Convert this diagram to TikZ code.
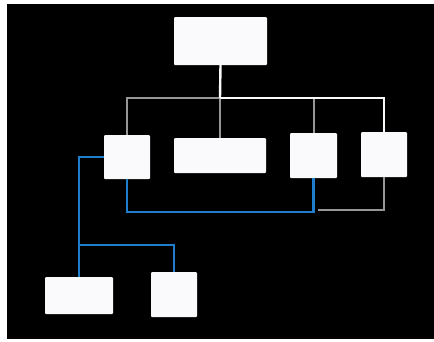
\documentclass[tikz,border=0pt]{standalone}
\usetikzlibrary{calc}
\definecolor{linkblue}{RGB}{30,125,205}
\definecolor{boxwhite}{RGB}{250,250,252}
\definecolor{busgray}{RGB}{150,150,150}
\begin{document}
\begin{tikzpicture}[x=1pt,y=-1pt,
  card/.style={draw=none,fill=boxwhite,rounded corners=1pt,inner sep=0pt},
  blueline/.style={draw=linkblue,line width=2.6pt},
  grayline/.style={draw=busgray,line width=2pt},
  whiteline/.style={draw=boxwhite,line width=2.4pt}]
\useasboundingbox (0,0) rectangle (434,341);
\fill[white] (0,0) rectangle (434,341);
\fill[black] (7,4) rectangle (434,339);
% nodes
\node[card,minimum width=93pt,minimum height=48pt] (top) at (220.5,41) {};
\node[card,minimum width=46pt,minimum height=44pt] (a) at (127,157) {};
\node[card,minimum width=92pt,minimum height=35pt] (b) at (220,155.5) {};
\node[card,minimum width=47pt,minimum height=45pt] (c) at (313.5,155.5) {};
\node[card,minimum width=46pt,minimum height=45pt] (d) at (384,154.5) {};
\node[card,minimum width=68pt,minimum height=37pt] (e) at (79,295.5) {};
\node[card,minimum width=46pt,minimum height=45pt] (f) at (174,294.5) {};
\coordinate (bus) at (220,98);
\coordinate (blow) at (0,212);
\coordinate (glow) at (318,210);
\coordinate (jn) at (0,245);
% connectors
\draw[grayline] (bus) -| (a.north);
\draw[grayline] (bus) -- (b.north);
\draw[grayline] (bus) -| (c.north);
\draw[whiteline] (top.south) -- (bus);
\draw[whiteline] (bus) -| (d.north);
\draw[grayline] (d.south) |- (glow);
\draw[blueline] (a.south) |- (c.south |- blow) -- (c.south);
\draw[blueline] (a.west) -| (e.north);
\draw[blueline] (e.north |- jn) -| (f.north);
\end{tikzpicture}
\end{document}
